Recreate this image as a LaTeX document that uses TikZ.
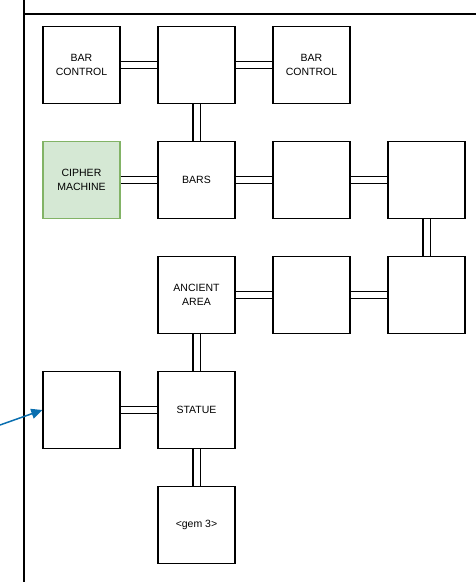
\documentclass[tikz,border=0pt]{standalone}
\usepackage{fontspec}
\setmainfont{Liberation Sans}
\usetikzlibrary{arrows.meta}
\definecolor{gfill}{HTML}{D5E8D4}
\definecolor{gdraw}{HTML}{82B366}
\definecolor{arrowblue}{HTML}{0A6FB0}
\begin{document}
\begin{tikzpicture}[x=1pt,y=-1pt,
  room/.style={draw=black, line width=1.4pt, fill=white, minimum width=77pt, minimum height=77pt, inner sep=0pt, align=center, font=\fontsize{10.5}{14.5}\selectfont},
  greenroom/.style={room, fill=gfill, draw=gdraw},
  link/.style={draw=black, line width=1.4pt, double=white, double distance=6pt},
  frame/.style={line width=1.3pt}]
\useasboundingbox (0,0) rectangle (476,582);
% frame
\coordinate (ft) at (24,0);
\coordinate (fb) at (24,582);
\coordinate (fl) at (24,14);
\coordinate (fr) at (476,14);
\draw[frame] (ft) -- (fb);
\draw[frame] (fl) -- (fr);
% rooms
\node[room] (bc1) at (81.5,65) {BAR\\CONTROL};
\node[room] (top) at (196.5,65) {};
\node[room] (bc2) at (311.5,65) {BAR\\CONTROL};
\node[greenroom] (cipher) at (81.5,180) {CIPHER\\MACHINE};
\node[room] (bars) at (196.5,180) {BARS};
\node[room] (r2c) at (311.5,180) {};
\node[room] (r2d) at (426.5,180) {};
\node[room] (ancient) at (196.5,295) {ANCIENT\\AREA};
\node[room] (r3c) at (311.5,295) {};
\node[room] (r3d) at (426.5,295) {};
\node[room] (left) at (81.5,410) {};
\node[room] (statue) at (196.5,410) {STATUE};
\node[room] (gem) at (196.5,525) {<gem 3>};
% links
\path[link] (bc1.east) -- (top.west);
\path[link] (top.east) -- (bc2.west);
\path[link] (top.south) -- (bars.north);
\path[link] (cipher.east) -- (bars.west);
\path[link] (bars.east) -- (r2c.west);
\path[link] (r2c.east) -- (r2d.west);
\path[link] (r2d.south) -- (r3d.north);
\path[link] (r3d.west) -- (r3c.east);
\path[link] (r3c.west) -- (ancient.east);
\path[link] (ancient.south) -- (statue.north);
\path[link] (statue.west) -- (left.east);
\path[link] (statue.south) -- (gem.north);
% arrow
\coordinate (astart) at (0,425);
\draw[arrowblue, line width=1.5pt, -{Triangle[length=11pt,width=10pt]}] (astart) -- (left.west);
\end{tikzpicture}
\end{document}
